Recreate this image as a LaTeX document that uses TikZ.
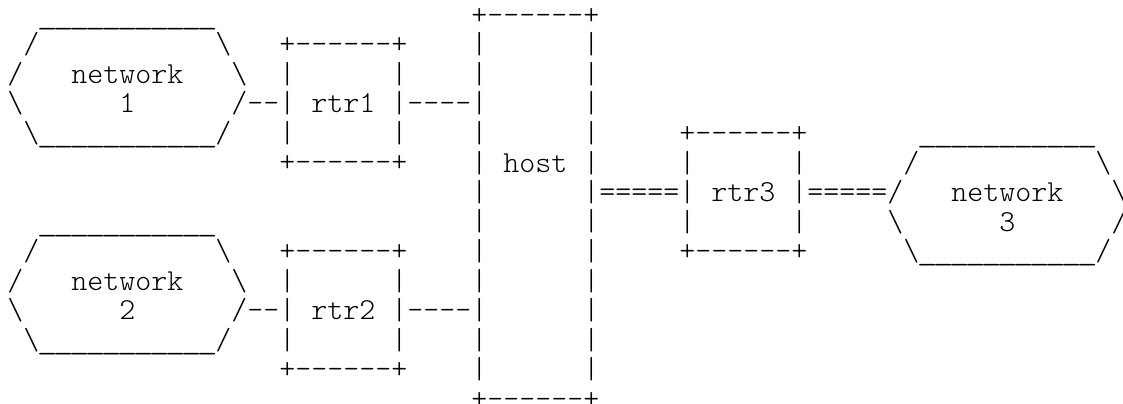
\documentclass[tikz,border=0pt]{standalone}
\usepackage{fontspec}
\usepackage{graphicx}
\newfontfamily\asciifamily{lmmonolt10-regular.otf}

% one character cell of the monospaced grid
\newlength\cw
\setlength\cw{12pt}
\newcommand\sk[1]{\hspace*{#1\cw}}
\newcommand\rep[2]{\foreach\k in {1,...,#1}{#2}}
% underscore stretched to fill its whole cell, so runs join up
\newcommand\us{\hbox to\cw{\hss\scalebox{1.3}[1]{\_}\hss}}
% a block of text lines on a fixed baseline grid; baseline = first line
\newcommand\art[1]{\vtop{\baselineskip=22.125pt\lineskiplimit=-\maxdimen\lineskip=0pt%
  \let\\\cr\halign{##\hfil\cr#1\crcr}}}
% pieces of the boxes and network clouds
\newcommand\rim{+\rep{6}{\hbox{-}}+}
\newcommand\wall{|\sk{6}|}
\newcommand\boxlabel[1]{|\sk{1}#1\sk{1}|}
\newcommand\netshape[1]{\art{\sk{2}\rep{11}{\us}\\
 \sk{1}/\sk{11}\textbackslash\\
 /\sk{3}network\sk{3}\textbackslash\\
 \textbackslash\sk{6}#1\sk{6}/\\
 \sk{1}\textbackslash\rep{11}{\us}/\\}}
\newcommand\routerbox[1]{\art{\rim\\ \wall\\ \boxlabel{#1}\\ \wall\\ \rim\\}}

\tikzset{
  ascii/.style={inner sep=0pt, outer sep=0pt, anchor=base west, text=black,
    font=\asciifamily\fontsize{22.857pt}{22.125pt}\selectfont},
}

\begin{document}
\begin{tikzpicture}
\useasboundingbox (0,0) rectangle (842.25pt,-302.25pt);
\begin{scope}[shift={(5.475pt,-18.375pt)}, x=12pt, y=-22.125pt]
  % networks
  \node[ascii] (net1) at (0,0) {\netshape{1}};
  \node[ascii] (net2) at (0,7) {\netshape{2}};
  \node[ascii] (net3) at (55,4) {\netshape{3}};
  % routers
  \node[ascii] (rtr1) at (17,1) {\routerbox{rtr1}};
  \node[ascii] (rtr2) at (17,8) {\routerbox{rtr2}};
  \node[ascii] (rtr3) at (42,4) {\routerbox{rtr3}};
  % host
  \node[ascii] (host) at (29,0) {\art{\rim\\ \wall\\ \wall\\ \wall\\ \wall\\
      \boxlabel{host}\\ \wall\\ \wall\\ \wall\\ \wall\\ \wall\\ \wall\\ \wall\\ \rim\\}};
  % links
  \node[ascii] (net1-rtr1) at (15,3) {\rep{2}{\hbox{-}}};
  \node[ascii] (rtr1-host) at (25,3) {\rep{4}{\hbox{-}}};
  \node[ascii] (net2-rtr2) at (15,10) {\rep{2}{\hbox{-}}};
  \node[ascii] (rtr2-host) at (25,10) {\rep{4}{\hbox{-}}};
  \node[ascii] (host-rtr3) at (37,6) {=====};
  \node[ascii] (rtr3-net3) at (50,6) {=====};
\end{scope}
\end{tikzpicture}
\end{document}
